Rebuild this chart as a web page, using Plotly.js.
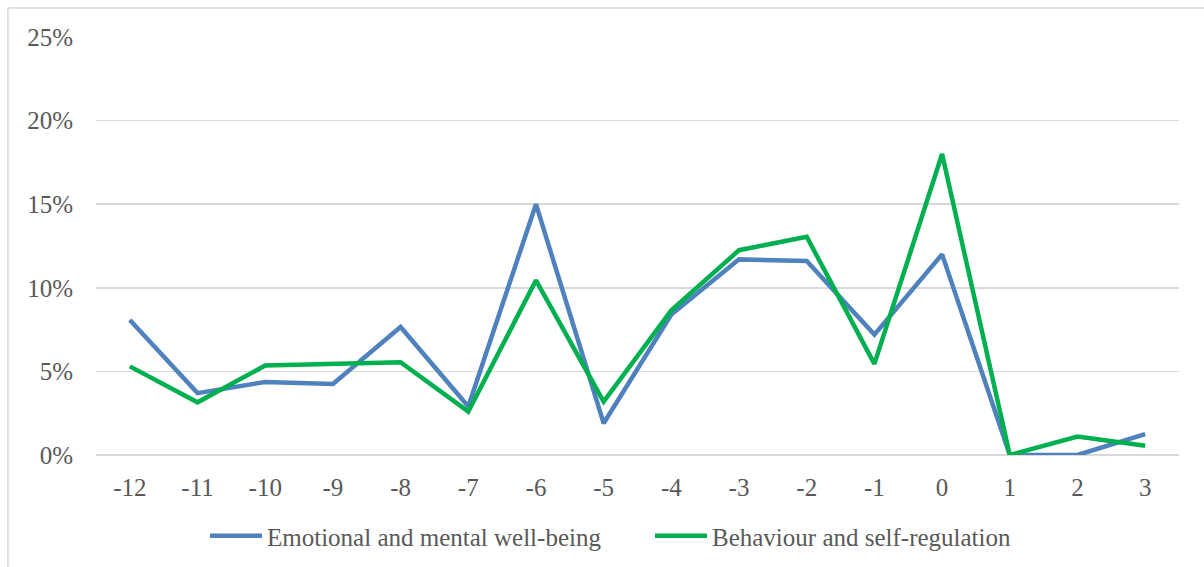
<!DOCTYPE html>
<html>
<head>
<meta charset="utf-8">
<script src="https://cdn.plot.ly/plotly-3.0.1.min.js"></script>
<style>html,body{margin:0;padding:0;background:#fff;}#chart{width:1204px;height:567px;}</style>
</head>
<body>
<div id="chart"></div>
<script>
var months = ["-12","-11","-10","-9","-8","-7","-6","-5","-4","-3","-2","-1","0","1","2","3"];
var emotional = [0.0807,0.0370,0.0437,0.0425,0.0766,0.0290,0.1500,0.0190,0.0840,0.1170,0.1160,0.0720,0.1200,0.0000,0.0000,0.0125];
var behaviour = [0.0530,0.0315,0.0535,0.0545,0.0555,0.0260,0.1045,0.0320,0.0865,0.1225,0.1305,0.0545,0.1800,0.0000,0.0110,0.0055];
var seriesNames = ["Emotional and mental well-being","Behaviour and self-regulation"];

var fontFam = "Liberation Serif, Times New Roman, serif";
var textCol = "#595959";

var traces = [
  {x: months, y: emotional, name: seriesNames[0], type: "scatter", mode: "lines",
   line: {color: "#4F81BD", width: 4.5}, legend: "legend"},
  {x: months, y: behaviour, name: seriesNames[1], type: "scatter", mode: "lines",
   line: {color: "#00B050", width: 4.5}, legend: "legend2"}
];

function legendAt(px) {
  return {orientation: "h", xref: "container", yref: "container",
          x: px / 1204, xanchor: "left", y: 1 - 536 / 567, yanchor: "middle",
          font: {family: fontFam, size: 25, color: textCol}, itemwidth: 52,
          borderwidth: 0, bgcolor: "rgba(0,0,0,0)"};
}

var layout = {
  width: 1204, height: 567,
  margin: {l: 96, r: 25, t: 37, b: 112, pad: 0},
  paper_bgcolor: "#fff", plot_bgcolor: "#fff",
  font: {family: fontFam, size: 25, color: textCol},
  showlegend: true,
  legend: legendAt(205),
  legend2: legendAt(650),
  xaxis: {type: "category", range: [-0.5, 15.5], showgrid: false, zeroline: false, showline: false,
          ticks: "", ticklabelstandoff: 15,
          tickfont: {family: fontFam, size: 25, color: textCol}},
  yaxis: {range: [0, 0.25], dtick: 0.05, tick0: 0, tickformat: ".0%",
          showgrid: true, gridcolor: "#d9d9d9", gridwidth: 1.5,
          zeroline: true, zerolinecolor: "#d9d9d9", zerolinewidth: 1.5,
          showline: false, ticks: "", ticklabelstandoff: 22,
          tickfont: {family: fontFam, size: 25, color: textCol}},
  shapes: [
    {type: "rect", xref: "paper", yref: "paper", x0: -0.0813, x1: 1.2, y0: -0.5, y1: 1.0694,
     line: {color: "#d9d9d9", width: 1.5}, fillcolor: "rgba(0,0,0,0)", layer: "below"}
  ]
};

Plotly.newPlot("chart", traces, layout, {displayModeBar: false, staticPlot: true});
</script>
</body>
</html>
